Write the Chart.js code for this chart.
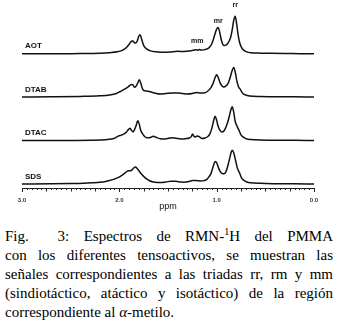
<!DOCTYPE html>
<html lang="es">
<head>
<meta charset="UTF-8">
<title>Espectros de RMN-1H del PMMA</title>
<script src="https://cdn.jsdelivr.net/npm/chart.js"></script>
<style>
  body { margin: 0; background: #fff; }
  #wrap { position: relative; width: 337px; height: 214px; }
  #caption {
    width: 328px;
    margin: 13px 0 0 5px;
    font-family: "Liberation Serif", "DejaVu Serif", "Times New Roman", Times, serif;
    font-size: 15px;
    line-height: 19px;
    color: #000;
  }
  #caption div { white-space: nowrap; text-align: justify; text-align-last: justify; }
  #caption div.last { text-align-last: left; }
  #caption sup { font-size: 10px; line-height: 0; }
</style>
</head>
<body>
<div id="wrap"><canvas id="myChart"></canvas></div>
<div id="caption">
  <div>Fig.&nbsp; 3: Espectros de RMN-<sup>1</sup>H del PMMA</div>
  <div>con los diferentes tensoactivos, se muestran las</div>
  <div>señales correspondientes a las triadas rr, rm y mm</div>
  <div>(sindiotáctico, atáctico y isotáctico) de la región</div>
  <div class="last">correspondiente al <i>α</i>-metilo.</div>
</div>
<script>
const aotPpm = [3.00, 2.70, 2.40, 2.20, 2.10, 2.02, 1.97, 1.93, 1.90, 1.875, 1.86, 1.845, 1.83, 1.815, 1.80, 1.788, 1.775, 1.76, 1.745, 1.72, 1.68, 1.62, 1.55, 1.48, 1.40, 1.34, 1.28, 1.24, 1.21, 1.195, 1.18, 1.16, 1.12, 1.08, 1.055, 1.035, 1.015, 1.0, 0.985, 0.97, 0.955, 0.94, 0.925, 0.90, 0.885, 0.87, 0.855, 0.84, 0.825, 0.81, 0.795, 0.78, 0.765, 0.745, 0.72, 0.69, 0.65, 0.55, 0.45, 0.30, 0.15, 0.00];
const aotInt = [0, 0, 0.3, 0.7, 1.2, 2, 3.5, 6, 9.5, 12.5, 12.8, 11, 10.8, 13, 17.5, 19, 16, 11, 7.5, 5, 3, 2, 1.5, 1.8, 2.5, 2.4, 2.8, 3.5, 4.2, 3.6, 4.3, 3.8, 4.2, 6, 9, 14, 20.5, 24.5, 26, 22, 15, 10, 8.3, 9, 10.5, 13, 17, 24, 33, 37.3, 30, 19, 11.5, 6.5, 3.5, 2, 1.2, 0.7, 0.5, 0.3, 0.2, 0];

const dtabPpm = [3.00, 2.70, 2.40, 2.20, 2.10, 2.03, 1.99, 1.95, 1.91, 1.875, 1.86, 1.845, 1.83, 1.815, 1.795, 1.78, 1.765, 1.75, 1.72, 1.69, 1.66, 1.62, 1.58, 1.52, 1.45, 1.40, 1.35, 1.30, 1.25, 1.21, 1.17, 1.13, 1.09, 1.06, 1.035, 1.015, 1.0, 0.985, 0.965, 0.945, 0.925, 0.905, 0.885, 0.865, 0.845, 0.825, 0.81, 0.795, 0.775, 0.76, 0.73, 0.71, 0.66, 0.55, 0.40, 0.20, 0.00];
const dtabInt = [0, 0.2, 0.6, 1.2, 2, 3.5, 5.5, 7.5, 10, 12.5, 12, 9.8, 10.5, 13, 17, 14, 9, 6.5, 6, 5.5, 4.5, 3.5, 3, 3.5, 4, 4, 3.5, 3, 3.5, 4.5, 4, 4, 6, 9, 14, 19.5, 22, 19.5, 14, 11, 10, 11, 13, 18, 25, 29.3, 25, 17, 10, 8, 3.5, 2.3, 1, 0.5, 0.3, 0.2, 0];

const dtacPpm = [3.00, 2.60, 2.30, 2.15, 2.08, 2.04, 2.01, 1.97, 1.93, 1.905, 1.89, 1.875, 1.857, 1.845, 1.83, 1.81, 1.795, 1.78, 1.76, 1.74, 1.71, 1.68, 1.65, 1.62, 1.58, 1.53, 1.49, 1.46, 1.42, 1.37, 1.32, 1.28, 1.26, 1.248, 1.236, 1.22, 1.20, 1.18, 1.15, 1.12, 1.09, 1.07, 1.05, 1.03, 1.017, 1.0, 0.985, 0.965, 0.945, 0.93, 0.91, 0.89, 0.87, 0.855, 0.84, 0.825, 0.81, 0.79, 0.77, 0.75, 0.73, 0.71, 0.69, 0.65, 0.55, 0.40, 0.20, 0.00];
const dtacInt = [0, 0, 0.3, 0.8, 1.5, 2.6, 4.3, 5.5, 8, 11, 12, 10, 8.5, 10.5, 14, 19.5, 16, 10, 6.5, 4, 2.6, 3, 4.3, 3, 1.8, 1.6, 2.3, 2.8, 2.3, 1.6, 1.8, 2.5, 4, 6.5, 4.5, 3.5, 4.5, 3.8, 2, 2.5, 4, 6.5, 12, 20, 24, 20, 14, 10, 8.5, 9, 12, 17, 24, 30, 33.5, 28, 19, 14, 10, 5.5, 3.5, 2.5, 1.5, 1, 0.5, 0.3, 0.2, 0];

const sdsPpm = [3.00, 2.70, 2.50, 2.37, 2.28, 2.20, 2.14, 2.10, 2.06, 2.02, 1.99, 1.96, 1.94, 1.92, 1.905, 1.89, 1.875, 1.855, 1.835, 1.815, 1.795, 1.775, 1.75, 1.72, 1.69, 1.65, 1.61, 1.57, 1.52, 1.47, 1.42, 1.37, 1.33, 1.29, 1.25, 1.21, 1.17, 1.13, 1.10, 1.08, 1.06, 1.04, 1.025, 1.015, 1.0, 0.985, 0.965, 0.945, 0.925, 0.905, 0.885, 0.865, 0.85, 0.84, 0.825, 0.805, 0.785, 0.765, 0.745, 0.72, 0.69, 0.65, 0.55, 0.40, 0.20, 0.00];
const sdsInt = [0, 0.2, 0.5, 0.8, 1.2, 1.7, 2.5, 3.4, 4.5, 6, 7.5, 9.5, 11, 12.5, 13, 13, 13.5, 15.5, 16.7, 15, 12.5, 10, 7.5, 5, 3.2, 2, 1.5, 1.4, 2, 2.7, 2.6, 2, 1.7, 2.3, 3.3, 3.3, 3, 3.3, 4.5, 7, 10, 16, 20.5, 22.3, 21, 17, 12.5, 10.5, 10, 12, 18, 26, 31.5, 33.4, 31, 23, 15, 11, 6, 3.5, 2, 1.2, 0.6, 0.3, 0.2, 0];

const labels = ['AOT', 'DTAB', 'DTAC', 'SDS'];
const ppmSets = [aotPpm, dtabPpm, dtacPpm, sdsPpm];
const intSets = [aotInt, dtabInt, dtacInt, sdsInt];
const offsets = [132.7, 90, 47, 4]; // separación vertical de cada espectro
const xTicks = [3, 2, 1, 0];

// triadas marcadas sobre el espectro de AOT
const triadNames = ['rr', 'mr', 'mm'];
const triadPpm = [0.81, 0.985, 1.20];
const triadInt = [48, 32, 12.5];

const datasets = labels.map((name, i) => ({
  label: name,
  data: ppmSets[i].map((p, k) => ({ x: p, y: offsets[i] + intSets[i][k] })),
  borderColor: '#111',
  borderWidth: 1.5,
  pointRadius: 0,
  cubicInterpolationMode: 'monotone',
  fill: false
}));

// eje inferior con marcas menores y nombres sobre el gráfico
const decor = {
  id: 'decor',
  afterDatasetsDraw(chart) {
    const { ctx, chartArea, scales } = chart;
    const xs = scales.x, ys = scales.y;
    ctx.save();
    ctx.strokeStyle = '#222';
    ctx.lineWidth = 1;
    ctx.beginPath();
    ctx.moveTo(chartArea.left, chartArea.bottom + 0.5);
    ctx.lineTo(chartArea.right, chartArea.bottom + 0.5);
    for (let k = 0; k <= 60; k++) {
      const v = k * 0.05;
      const px = Math.round(xs.getPixelForValue(v)) + 0.5;
      const len = (k % 20 === 0) ? 4 : (k % 5 === 0) ? 3.5 : 2;
      ctx.moveTo(px, chartArea.bottom);
      ctx.lineTo(px, chartArea.bottom + len);
    }
    ctx.stroke();

    ctx.fillStyle = '#111';
    ctx.font = 'bold 8px "Liberation Sans", Arial, sans-serif';
    ctx.textAlign = 'left';
    ctx.textBaseline = 'middle';
    labels.forEach((name, i) => {
      ctx.fillText(name, xs.getPixelForValue(2.97), ys.getPixelForValue(offsets[i] + 7.5));
    });

    ctx.font = 'bold 7px "Liberation Sans", Arial, sans-serif';
    ctx.textAlign = 'center';
    triadNames.forEach((t, i) => {
      ctx.fillText(t, xs.getPixelForValue(triadPpm[i]), ys.getPixelForValue(offsets[0] + triadInt[i]));
    });
    ctx.restore();
  }
};

const ctx = document.getElementById('myChart').getContext('2d');
const myChart = new Chart(ctx, {
  type: 'line',
  data: { datasets },
  plugins: [decor],
  options: {
    responsive: true,
    maintainAspectRatio: false,
    animation: false,
    layout: { padding: { left: 22, right: 23, top: 0, bottom: 2 } },
    plugins: { legend: { display: false }, tooltip: { enabled: false } },
    scales: {
      x: {
        type: 'linear',
        reverse: true,
        min: 0,
        max: 3,
        grid: { display: false },
        border: { display: false },
        afterBuildTicks: (scale) => { scale.ticks = xTicks.map(v => ({ value: v })); },
        ticks: {
          padding: 1,
          maxRotation: 0,
          color: '#333',
          font: { size: 6, weight: 'bold', family: '"Liberation Sans", Arial, sans-serif' },
          callback: (v) => Number(v).toFixed(1)
        },
        title: {
          display: true,
          text: 'ppm',
          color: '#111',
          padding: { top: -4, bottom: 0 },
          font: { size: 9, family: '"Liberation Sans", Arial, sans-serif' }
        }
      },
      y: { display: false, min: 0, max: 186 }
    }
  }
});
</script>
</body>
</html>
